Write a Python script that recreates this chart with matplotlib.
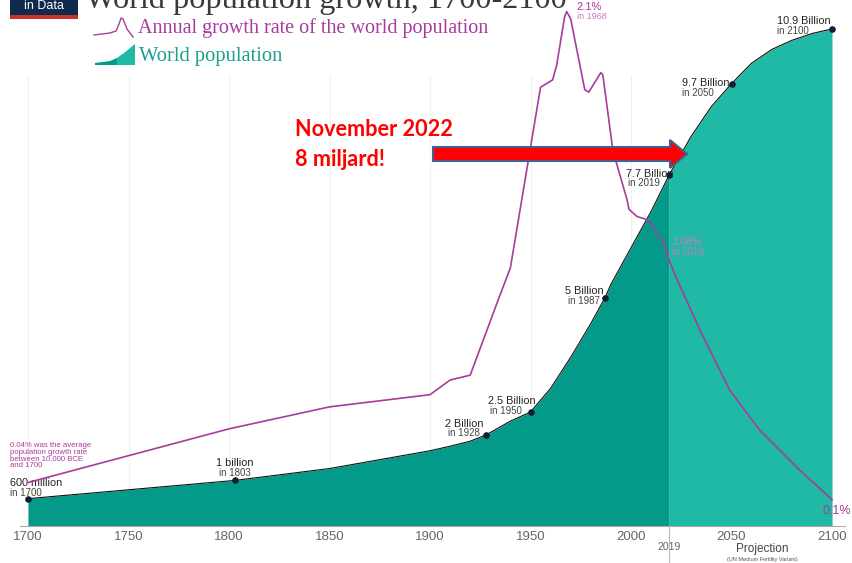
import matplotlib
matplotlib.use("Agg")
import matplotlib.pyplot as plt
from matplotlib.patches import Rectangle, Polygon
from matplotlib.lines import Line2D

# World population (billions), history and UN projection
pop_years = [1700, 1803, 1850, 1900, 1910, 1920, 1928, 1940, 1950, 1960, 1970,
             1980, 1987, 1990, 2000, 2010, 2019, 2030, 2040, 2050, 2060, 2070,
             2080, 2090, 2100]
pop_values = [0.6, 1.0, 1.26, 1.65, 1.75, 1.86, 2.0, 2.3, 2.5, 3.02, 3.7,
              4.44, 5.0, 5.3, 6.1, 6.9, 7.7, 8.55, 9.2, 9.7, 10.15, 10.45,
              10.65, 10.8, 10.9]

# Annual growth rate of the world population (%)
rate_years = [1700, 1800, 1850, 1900, 1910, 1920, 1934, 1940, 1955, 1961, 1963,
              1967, 1968, 1970, 1977, 1979, 1985, 1986, 1991, 1998, 1999, 2003,
              2007, 2010, 2013, 2017, 2019, 2023, 2034, 2049, 2064, 2084, 2100]
rate_values = [0.17, 0.39, 0.48, 0.53, 0.59, 0.61, 0.92, 1.05, 1.79, 1.82, 1.88,
               2.08, 2.1, 2.07, 1.78, 1.77, 1.85, 1.84, 1.53, 1.33, 1.29, 1.26,
               1.25, 1.23, 1.19, 1.14, 1.08, 1.0, 0.8, 0.55, 0.385, 0.22, 0.1]

# Milestones on the population curve
mile_years = [1700, 1803, 1928, 1950, 1987, 2019, 2050, 2100]
mile_values = [0.6, 1.0, 2.0, 2.5, 5.0, 7.7, 9.7, 10.9]
mile_labels = ["600 million", "1 billion", "2 Billion", "2.5 Billion",
               "5 Billion", "7.7 Billion", "9.7 Billion", "10.9 Billion"]

tick_years = [1700, 1750, 1800, 1850, 1900, 1950, 2000, 2050, 2100]
proj_start = 2019

DARK = "#049a89"
LIGHT = "#1fb9a6"
PURPLE = "#a93b9d"
LPURPLE = "#c77dba"
NAVY = "#0f1f35"
GREY = "#666666"

W, H = 853, 563
fig = plt.figure(figsize=(W / 100, H / 100), dpi=100)
fig.patch.set_facecolor("white")


def fx(px):
    return px / W


def fy(py):
    return 1 - py / H


sans = "Liberation Sans"
serif = "Liberation Serif"

# main axes: baseline sits at y=526 px, 45.6 px per billion
base = 526
ax = fig.add_axes([fx(20), fy(base), fx(845) - fx(20), base / H])
ax.set_xlim(1700 - 8 / 2.01, 2100 + 13 / 2.01)
ax.set_ylim(0, base / 45.6)

# faint vertical gridlines
ax.vlines(tick_years, 0, (base - 75) / 45.6, color="#f0f0f0", lw=0.8, zorder=0)

hist_x = [y for y in pop_years if y <= proj_start]
hist_y = pop_values[:len(hist_x)]
proj_x = [y for y in pop_years if y >= proj_start]
proj_y = pop_values[len(hist_x) - 1:]
ax.fill_between(hist_x, 0, hist_y, color=DARK, lw=0, zorder=1)
ax.fill_between(proj_x, 0, proj_y, color=LIGHT, lw=0, zorder=1)
ax.plot(pop_years, pop_values, color="#111111", lw=0.8, zorder=2)
ax.scatter(mile_years, mile_values, s=14, color=NAVY, zorder=5)

for sp in ["top", "left", "right"]:
    ax.spines[sp].set_visible(False)
ax.spines["bottom"].set_color("#aaaaaa")
ax.spines["bottom"].set_linewidth(0.8)
ax.set_yticks([])
ax.set_xticks(tick_years)
ax.tick_params(axis="x", length=0, pad=3.5, labelsize=9.5, labelcolor=GREY)
for lab in ax.get_xticklabels():
    lab.set_fontfamily(sans)

# growth-rate axes sharing the x scale
ax2 = ax.twinx()
ax2.set_ylim(-2 / 244, (base - 2) / 244)
ax2.plot(rate_years, rate_values, color=PURPLE, lw=1.2, zorder=3)
ax2.axis("off")

# milestone labels: (line1 offset, line2 offset, alignment) in pixels from dot
label_pos = [
    ((-18, 16), (-18, 6), "left"),
    ((0, 17), (0, 7), "center"),
    ((-3, 11), (-6, 2), "right"),
    ((-43, 11), (-40, 1), "left"),
    ((-1, 7), (-5, -3), "right"),
    ((4, 1), (-9, -8), "right"),
    ((-50, 1), (-50, -9), "left"),
    ((-55, 8), (-55, -2), "left"),
]
for yr, val, txt, (o1, o2, ha) in zip(mile_years, mile_values, mile_labels, label_pos):
    ax.annotate(txt, (yr, val), xytext=o1, textcoords="offset pixels",
                ha=ha, va="center", fontsize=7.8, color="#222222", family=sans, zorder=6)
    ax.annotate("in %d" % yr, (yr, val), xytext=o2, textcoords="offset pixels",
                ha=ha, va="center", fontsize=7, color="#444444", family=sans, zorder=6)

# growth-rate annotations
peak = rate_values.index(max(rate_values))
ax2.annotate("%.1f%%" % rate_values[peak], (rate_years[peak], rate_values[peak]),
             xytext=(10, 5), textcoords="offset pixels", ha="left", va="center",
             fontsize=8, color=PURPLE, family=sans)
ax2.annotate("in %d" % rate_years[peak], (rate_years[peak], rate_values[peak]),
             xytext=(10, -5), textcoords="offset pixels", ha="left", va="center",
             fontsize=6.5, color=LPURPLE, family=sans)
i19 = rate_years.index(2019)
ax2.annotate("%.2f%%" % rate_values[i19], (2019, rate_values[i19]),
             xytext=(3, 18), textcoords="offset pixels", ha="left", va="center",
             fontsize=7.5, color=LPURPLE, family=sans)
ax2.annotate("in 2019", (2019, rate_values[i19]), xytext=(3, 8),
             textcoords="offset pixels", ha="left", va="center",
             fontsize=7, color=LPURPLE, family=sans)
ax2.annotate("%.1f%%" % rate_values[-1], (2100, rate_values[-1]),
             xytext=(5, -11), textcoords="offset pixels", ha="center", va="center",
             fontsize=9, color=PURPLE, family=sans)
fig.text(fx(10), fy(442), "0.04% was the average\npopulation growth rate\nbetween 10,000 BCE\nand 1700",
         ha="left", va="top", fontsize=5.6, color=PURPLE, family=sans, linespacing=0.95)

# 2019 split marker and projection note
fig.add_artist(Line2D([fx(669), fx(669)], [fy(526), 0], color="#bbbbbb", lw=0.8))
fig.text(fx(669), fy(547), "2019", ha="center", va="center", fontsize=7.5, color=GREY, family=sans)
fig.text(fx(762), fy(549), "Projection", ha="center", va="center", fontsize=8.5, color="#444444", family=sans)
fig.text(fx(762), fy(559), "(UN Medium Fertility Variant)", ha="center", va="center",
         fontsize=4, color="#555555", family=sans)

# title, cut off at the top edge, and logo
fig.text(fx(85), fy(8), "World population growth, 1700-2100", ha="left", va="baseline",
         fontsize=23.2, color="#3a3a3a", family=serif)
fig.add_artist(Rectangle((fx(10), fy(15)), fx(68), fy(-10) - fy(15), color="#0f2a4d", lw=0))
fig.add_artist(Rectangle((fx(10), fy(19)), fx(68), fy(15) - fy(19), color="#c8322b", lw=0))
fig.text(fx(44), fy(6), "in Data", ha="center", va="center", fontsize=9, color="white", family=sans)

# legend glyphs and labels
spark = [(94, 35), (110, 33), (116, 31), (119, 24), (121, 18), (123, 19), (127, 29), (133, 37)]
fig.add_artist(Line2D([fx(p[0]) for p in spark], [fy(p[1]) for p in spark], color=PURPLE, lw=1.0))
fig.text(fx(138), fy(28), "Annual growth rate of the world population", ha="left", va="center",
         fontsize=14.5, color=PURPLE, family=serif)
fig.add_artist(Polygon([(fx(95), fy(65)), (fx(95), fy(63)), (fx(110), fy(61)), (fx(117), fy(58)),
                        (fx(117), fy(65))], closed=True, color=DARK, lw=0))
fig.add_artist(Polygon([(fx(117), fy(65)), (fx(117), fy(58)), (fx(124), fy(53)), (fx(135), fy(44)),
                        (fx(135), fy(65))], closed=True, color=LIGHT, lw=0))
fig.text(fx(139), fy(56), "World population", ha="left", va="center",
         fontsize=14.8, color="#1a9e8e", family=serif)

# callout: 8 billion reached
fig.text(fx(295), fy(130), "November 2022", ha="left", va="center", fontsize=15.6,
         fontweight="bold", color="#ff0000", family="Lato")
fig.text(fx(295), fy(160), "8 miljard!", ha="left", va="center", fontsize=15.6,
         fontweight="bold", color="#ff0000", family="Lato")
arrow = [(433, 147), (670, 147), (670, 140), (687, 154), (670, 168), (670, 161), (433, 161)]
fig.add_artist(Polygon([(fx(x), fy(y)) for x, y in arrow], closed=True, facecolor="#ff0000",
                       edgecolor="#41628f", lw=1.5, zorder=10))

fig.savefig("out.png", dpi=100)
